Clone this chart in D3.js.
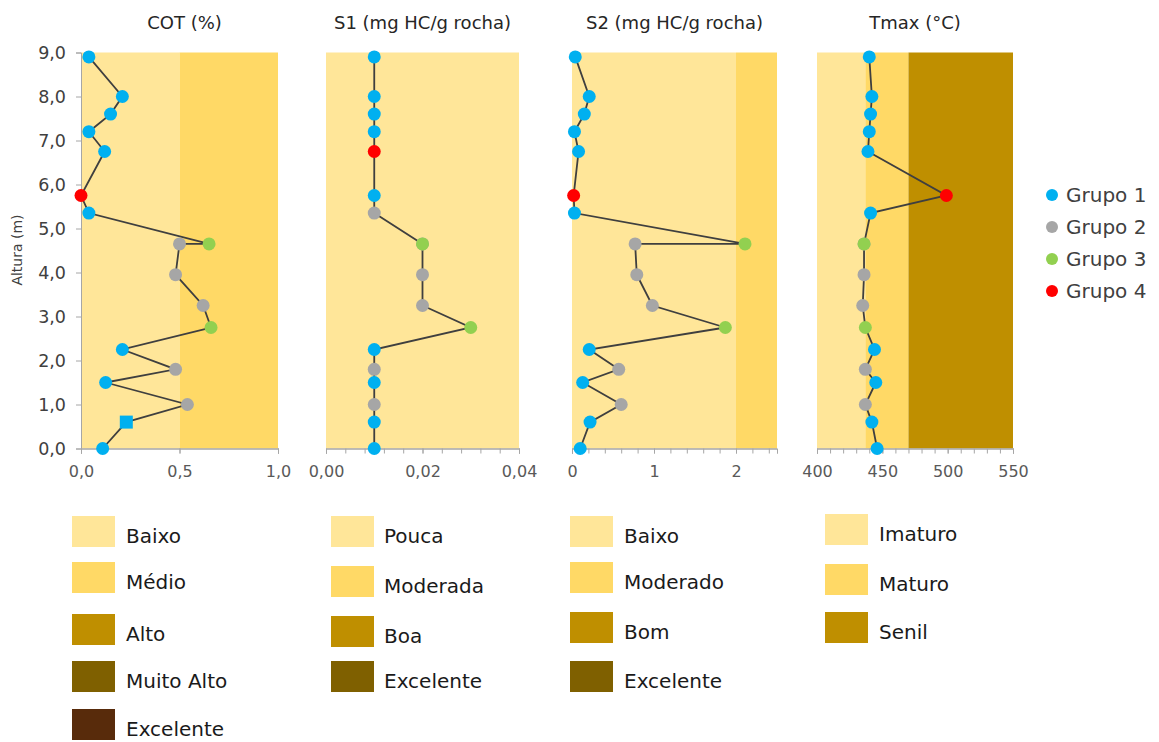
<!DOCTYPE html>
<html>
<head>
<meta charset="utf-8">
<script src="https://cdn.jsdelivr.net/npm/d3@7"></script>
<style>
  body { margin: 0; background: #fff; }
  text { font-family: "DejaVu Sans", sans-serif; }
</style>
</head>
<body>
<div id="chart"></div>
<script>
// depth of each sample (m), top to bottom, in the order the line joins them
var depths = [8.9, 8.0, 7.6, 7.2, 6.75, 5.75, 5.35, 4.65, 4.65, 3.95, 3.25, 2.75, 2.25, 1.8, 1.5, 1.0, 0.6, 0.0];
var groups = [1, 1, 1, 1, 1, 4, 1, 3, 2, 2, 2, 3, 1, 2, 1, 2, 1, 1];
// the S1 chart colours its points a little differently
var groupsS1 = [1, 1, 1, 1, 4, 1, 2, 3, 2, 2, 2, 3, 1, 2, 1, 2, 1, 1];

var cot = [0.04, 0.21, 0.15, 0.04, 0.12, 0.00, 0.04, 0.65, 0.50, 0.48, 0.62, 0.66, 0.21, 0.48, 0.125, 0.54, 0.23, 0.11];
var s1 = [0.01, 0.01, 0.01, 0.01, 0.01, 0.01, 0.01, 0.02, 0.02, 0.02, 0.02, 0.03, 0.01, 0.01, 0.01, 0.01, 0.01, 0.01];
var s2 = [0.04, 0.21, 0.15, 0.03, 0.08, 0.02, 0.03, 2.11, 0.77, 0.79, 0.98, 1.87, 0.21, 0.57, 0.13, 0.60, 0.22, 0.10];
var tmax = [440, 442, 441, 440, 439, 499, 441, 436, 436, 436, 435, 437, 444, 437, 445, 437, 442, 446];
var cotSquareDepths = [0.6];

// class limits drawn as background bands
var cotLimits = [0, 0.5, 1.0];
var s1Limits = [0, 0.04];
var s2Limits = [0, 2.0, 2.5];
var tmaxLimits = [400, 437, 470, 550];

var depthTicks = [0, 1, 2, 3, 4, 5, 6, 7, 8, 9];
var groupNames = ["Grupo 1", "Grupo 2", "Grupo 3", "Grupo 4"];
var groupColors = ["#00B0F0", "#A6A6A6", "#92D050", "#FF0000"];
var bandColors = ["#FFE699", "#FFD966", "#BF8F00", "#7F6000", "#582B0B"];

var legendCOT = ["Baixo", "Médio", "Alto", "Muito Alto", "Excelente"];
var legendS1 = ["Pouca", "Moderada", "Boa", "Excelente"];
var legendS2 = ["Baixo", "Moderado", "Bom", "Excelente"];
var legendTmax = ["Imaturo", "Maturo", "Senil"];

var pt = d3.formatLocale({decimal: ",", thousands: ".", grouping: [3], currency: ["R$", ""]});

var width = 1159, height = 742;
var svg = d3.select("#chart").append("svg")
    .attr("width", width)
    .attr("height", height);

var y = d3.scaleLinear().domain([0, 9]).range([448.5, 52.5]);

var panels = [
    {title: "COT (%)", values: cot, groups: groups, range: [81, 278], limits: cotLimits,
     ticks: [0, 0.5, 1.0], minor: [0, 0.5, 1.0], fmt: pt.format(".1f"), yAxis: true},
    {title: "S1 (mg HC/g rocha)", values: s1, groups: groupsS1, range: [326, 519], limits: s1Limits,
     ticks: [0, 0.02, 0.04], minor: d3.range(0, 0.0401, 0.004), fmt: pt.format(".2f")},
    {title: "S2 (mg HC/g rocha)", values: s2, groups: groups, range: [572, 777], limits: s2Limits,
     ticks: [0, 1, 2], minor: d3.range(0, 2.41, 0.2), fmt: pt.format("d")},
    {title: "Tmax (°C)", values: tmax, groups: groups, range: [817, 1013], limits: tmaxLimits,
     ticks: [400, 450, 500, 550], minor: d3.range(400, 551, 10), fmt: pt.format("d")}
];

panels.forEach(function(p, pi) {
    var x = d3.scaleLinear()
        .domain([p.limits[0], p.limits[p.limits.length - 1]])
        .range(p.range);
    var g = svg.append("g");

    // background class bands
    g.selectAll("rect.band")
        .data(d3.pairs(p.limits))
        .enter().append("rect")
        .attr("class", "band")
        .attr("x", function(d) { return x(d[0]); })
        .attr("y", y(9))
        .attr("width", function(d) { return x(d[1]) - x(d[0]); })
        .attr("height", y(0) - y(9))
        .attr("fill", function(d, i) { return bandColors[i]; });

    g.append("text")
        .attr("x", (p.range[0] + p.range[1]) / 2 + (pi === 0 ? 5 : 0))
        .attr("y", 29)
        .attr("text-anchor", "middle")
        .attr("font-size", 18)
        .attr("fill", "#262626")
        .text(p.title);

    // minor ticks, then labelled ticks
    var minor = g.append("g")
        .attr("transform", "translate(0," + y(0) + ")")
        .call(d3.axisBottom(x).tickValues(p.minor).tickSize(5).tickFormat(""));
    var major = g.append("g")
        .attr("transform", "translate(0," + y(0) + ")")
        .call(d3.axisBottom(x).tickValues(p.ticks).tickSize(5).tickPadding(12).tickFormat(p.fmt));
    [minor, major].forEach(function(a) {
        a.selectAll("path, line").attr("stroke", "#A6A6A6");
    });
    major.selectAll("text")
        .attr("font-size", 16)
        .attr("fill", "#595959");

    if (p.yAxis) {
        var ya = g.append("g")
            .attr("transform", "translate(" + p.range[0] + ",0)")
            .call(d3.axisLeft(y).tickValues(depthTicks).tickSize(5).tickPadding(10).tickFormat(pt.format(".1f")));
        ya.selectAll("path, line").attr("stroke", "#A6A6A6");
        ya.selectAll("text")
            .attr("font-size", 17.5)
            .attr("fill", "#404040");
        g.append("text")
            .attr("transform", "translate(22," + 250 + ") rotate(-90)")
            .attr("text-anchor", "middle")
            .attr("font-size", 14)
            .attr("fill", "#404040")
            .text("Altura (m)");
    }

    var pts = depths.map(function(d, i) {
        return {depth: d, value: p.values[i], group: p.groups[i]};
    });

    g.append("path")
        .datum(pts)
        .attr("fill", "none")
        .attr("stroke", "#3F3F3F")
        .attr("stroke-width", 1.8)
        .attr("d", d3.line()
            .x(function(d) { return x(d.value); })
            .y(function(d) { return y(d.depth); }));

    // later groups on top, as in the source chart
    var sorted = pts.slice().sort(function(a, b) { return a.group - b.group; });
    sorted.forEach(function(d) {
        var cx = x(d.value), cy = y(d.depth);
        var col = groupColors[d.group - 1];
        if (pi === 0 && cotSquareDepths.indexOf(d.depth) >= 0) {
            g.append("rect")
                .attr("x", cx - 6.5).attr("y", cy - 6.5)
                .attr("width", 13).attr("height", 13)
                .attr("fill", col);
        } else {
            g.append("circle")
                .attr("cx", cx).attr("cy", cy)
                .attr("r", 6.5)
                .attr("fill", col);
        }
    });
});

// group legend
var lg = svg.append("g");
groupNames.forEach(function(name, i) {
    var ly = 195 + i * 32;
    lg.append("circle")
        .attr("cx", 1052).attr("cy", ly)
        .attr("r", 6)
        .attr("fill", groupColors[i]);
    lg.append("text")
        .attr("x", 1066).attr("y", ly + 7)
        .attr("font-size", 20)
        .attr("fill", "#404040")
        .text(name);
});

// class legends under each panel
var classLegends = [
    {labels: legendCOT, x: 72, tx: 126, tops: [516, 562, 614, 661, 709]},
    {labels: legendS1, x: 331, tx: 384, tops: [516, 566, 616, 661]},
    {labels: legendS2, x: 570, tx: 624, tops: [516, 562, 612, 661]},
    {labels: legendTmax, x: 825, tx: 879, tops: [514, 564, 612]}
];

classLegends.forEach(function(c) {
    c.labels.forEach(function(label, i) {
        svg.append("rect")
            .attr("x", c.x).attr("y", c.tops[i])
            .attr("width", 43).attr("height", 31)
            .attr("fill", bandColors[i]);
        svg.append("text")
            .attr("x", c.tx).attr("y", c.tops[i] + 15 + 5)
            .attr("dy", "0.35em")
            .attr("font-size", 20)
            .attr("fill", "#1A1A1A")
            .text(label);
    });
});
</script>
</body>
</html>
